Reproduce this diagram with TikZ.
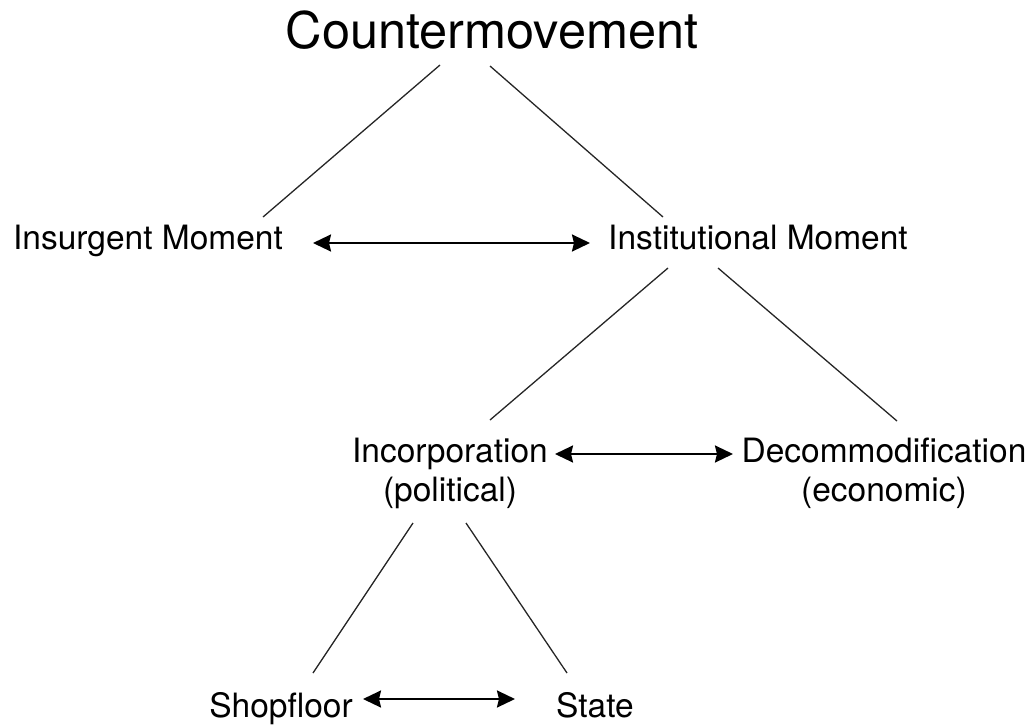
\documentclass[tikz,border=0pt]{standalone}
\usepackage{fontspec}
\setmainfont{TeX Gyre Heros}
\usepackage{tikz}
\usetikzlibrary{arrows.meta,calc}

\begin{document}
\begin{tikzpicture}
            [x=0.5pt, y=-0.5pt,
             every node/.style={inner sep=0pt, font=\fontsize{16.75}{19.5}\selectfont},
             link/.style={line width=0.65pt, black!85},
             twoway/.style={{Stealth[length=9pt,width=8.5pt,inset=1pt]}-{Stealth[length=9pt,width=8.5pt,inset=1pt]}, line width=1.1pt}]
            \useasboundingbox (0, 0) rectangle (1034, 724);
            \node [anchor=base, font=\fontsize{25.25}{30}\selectfont] (cm) at (492, 48) {Countermovement};
            \node [anchor=base] (ins) at (148, 249) {Insurgent Moment};
            \node [anchor=base] (inst) at (758, 249) {Institutional Moment};
            \node [anchor=north, align=center] (inc) at (450, 438) {Incorporation\\(political)};
            \node [anchor=north, align=center] (dec) at (884, 438) {Decommodification\\(economic)};
            \node [anchor=base] (shop) at (281, 717) {Shopfloor};
            \node [anchor=base] (state) at (595, 717) {State};
            \draw [link] ($(cm.base)+(-52, 17)$) -- ($(ins.base)+(115, -32)$);
            \draw [link] ($(cm.base)+(-2, 18)$) -- ($(inst.base)+(-95, -32)$);
            \draw [twoway] ($(ins.base)+(165, -6)$) -- ($(inst.base)+(-168, -6)$);
            \draw [link] ($(inst.base)+(-90, 19)$) -- ($(inc.north)+(40, -18)$);
            \draw [link] ($(inst.base)+(-40, 19)$) -- ($(dec.north)+(13, -17)$);
            \draw [twoway] ($(inc.north)+(105, 16)$) -- ($(dec.north)+(-151, 16)$);
            \draw [link] ($(inc.north)+(-37, 85)$) -- ($(shop.base)+(32, -44)$);
            \draw [link] ($(inc.north)+(16, 85)$) -- ($(state.base)+(-28, -44)$);
            \draw [twoway] ($(shop.base)+(82, -18)$) -- ($(state.base)+(-80, -18)$);
        \end{tikzpicture}
\end{document}
